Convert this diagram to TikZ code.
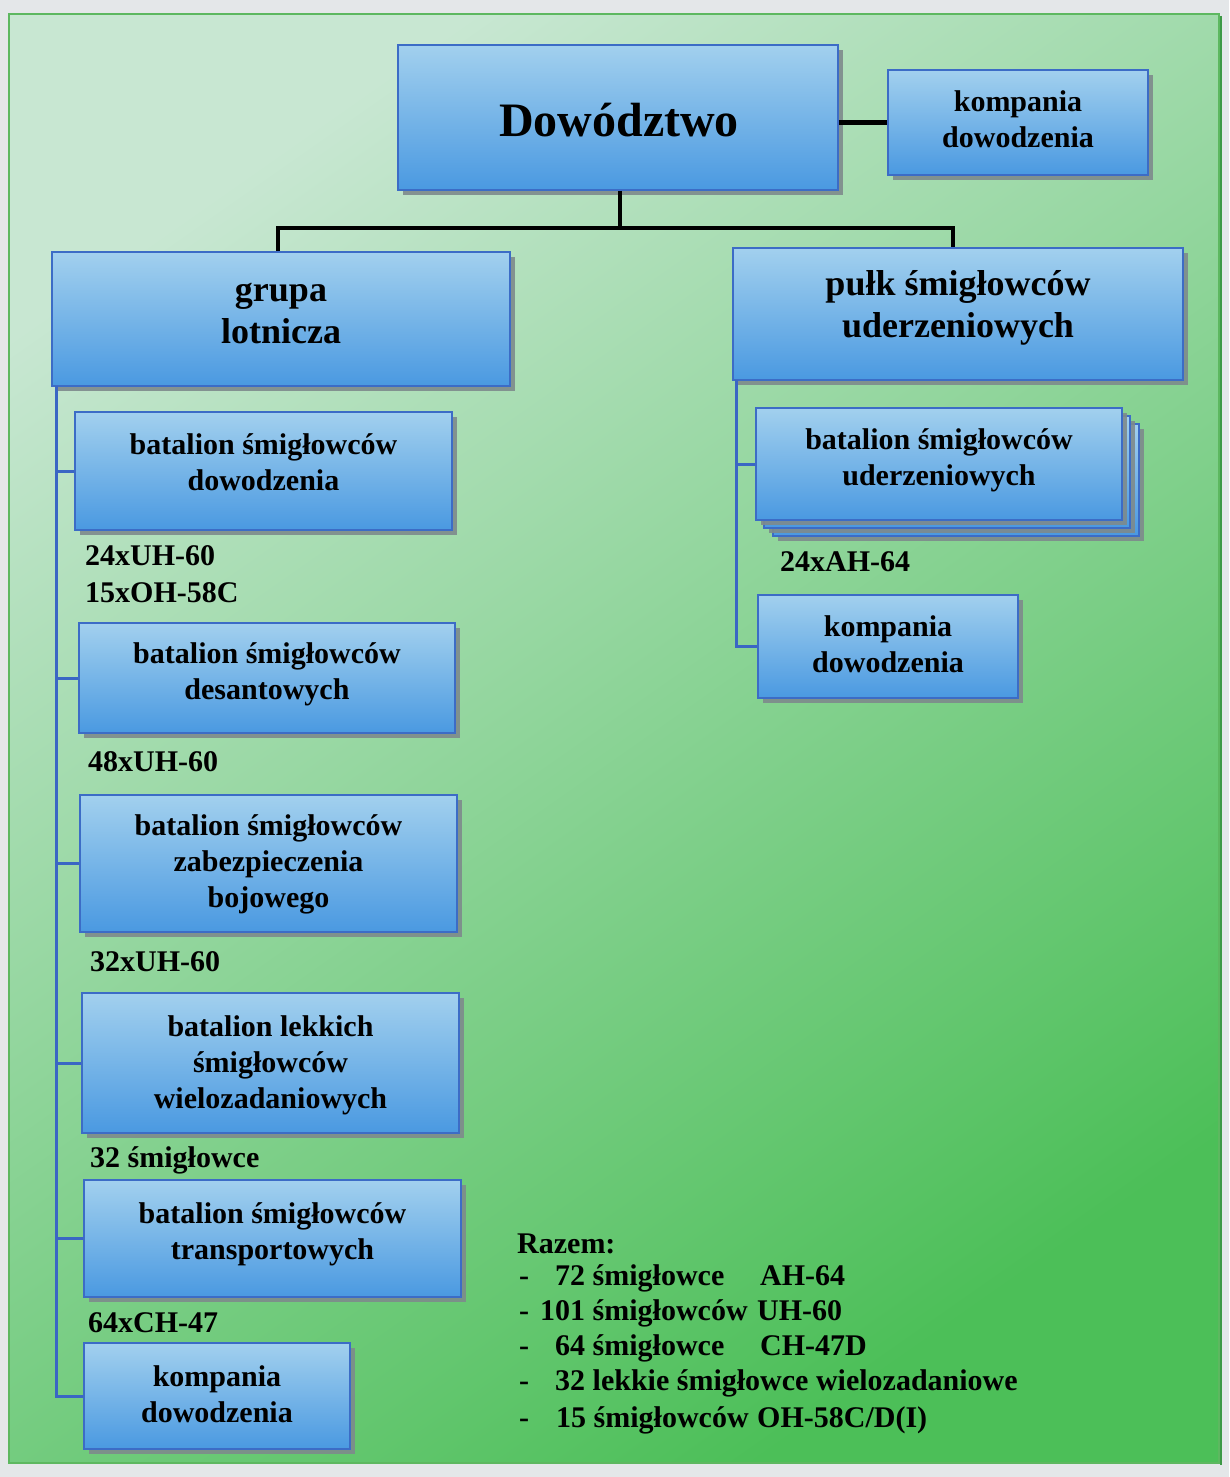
\documentclass[tikz,border=0pt]{standalone}
\usepackage{fontspec}
\setmainfont{Liberation Serif}
\usetikzlibrary{shadows,calc}

\definecolor{pagegray}{HTML}{E4E7E9}
\definecolor{panellight}{HTML}{C8E7D2}
\definecolor{panelmid}{HTML}{86CF92}
\definecolor{paneldark}{HTML}{4CBF58}
\definecolor{paneledge}{HTML}{5DB860}
\definecolor{boxtop}{HTML}{A2D0EE}
\definecolor{boxbot}{HTML}{4A99E1}
\definecolor{boxedge}{HTML}{3C6CC6}
\definecolor{boxshade}{HTML}{7E8A8C}
\definecolor{spinecol}{HTML}{3A66C4}

\tikzset{
  unit/.style={draw=boxedge, line width=1.8pt, top color=boxtop, bottom color=boxbot,
    inner sep=0pt,
    drop shadow={shadow xshift=5pt, shadow yshift=-5pt, fill=boxshade, opacity=0.9}},
  unittext/.style={font=\fontsize{30}{36}\selectfont\bfseries, align=center, inner sep=0pt},
  bigtext/.style={font=\fontsize{36}{42}\selectfont\bfseries, align=center, inner sep=0pt},
  titletext/.style={font=\fontsize{48}{56}\selectfont\bfseries, inner sep=0pt},
  tag/.style={font=\fontsize{30}{36}\selectfont\bfseries, inner sep=0pt, anchor=base west},
  listtext/.style={font=\fontsize{30}{36}\selectfont\bfseries, inner sep=0pt, anchor=base west},
  tree/.style={line width=4.5pt, black},
  spine/.style={line width=3pt, spinecol},
}

% #1 name, #2/#3 centre, #4 width, #5 height, #6 text offset, #7 style, #8 text
\newcommand\orgbox[8]{%
  \node[unit, minimum width=#4pt, minimum height=#5pt] (#1) at (#2,#3) {};
  \node[#7] (#1-t) at ($(#1.center)+(0,#6)$) {#8};
}

\begin{document}
\begin{tikzpicture}[x=1pt, y=-1pt]
  \useasboundingbox (0,0) rectangle (1229,1477);
  \fill[pagegray] (0,0) rectangle (1229,1477);

  % green panel
  \shade[top color=panellight, middle color=panelmid, bottom color=paneldark, shading angle=35]
    (9,14) rectangle (1219,1463);
  \draw[paneledge, line width=1.5pt] (9,14) rectangle (1219,1463);
  \draw[paneldark!80!black, line width=2pt] (1221,16) -- (1221,1465);

  % command level
  \node[unit, minimum width=440pt, minimum height=145pt] (dow) at (618,117.5) {};
  \node[titletext, anchor=base] (dow-t) at (619,136) {Dowództwo};
  \orgbox{kd1}{1018}{122.5}{260}{105}{-3}{unittext}{kompania\\dowodzenia}

  % second level
  \orgbox{grupa}{281}{319}{458}{134}{-6}{bigtext}{grupa\\lotnicza}
  \orgbox{pulk}{958}{314}{450}{132}{-6}{bigtext}{pułk śmigłowców\\uderzeniowych}

  % battalions of the aviation group
  \orgbox{b1}{263.5}{471}{377}{118}{-9}{unittext}{batalion śmigłowców\\dowodzenia}
  \orgbox{b2}{267}{678}{376}{110}{-4}{unittext}{batalion śmigłowców\\desantowych}
  \orgbox{b3}{268.5}{863.5}{377}{137}{1}{unittext}{batalion śmigłowców\\zabezpieczenia\\bojowego}
  \orgbox{b4}{270.5}{1063}{377}{140}{2}{unittext}{batalion lekkich\\śmigłowców\\wielozadaniowych}
  \orgbox{b5}{272.5}{1238.5}{377}{117}{-4}{unittext}{batalion śmigłowców\\transportowych}
  \orgbox{kd3}{217}{1396}{266}{106}{-2}{unittext}{kompania\\dowodzenia}

  % attack regiment: stacked battalions
  \node[unit, minimum width=366pt, minimum height=112pt] (ud3) at (956,480) {};
  \node[unit, minimum width=366pt, minimum height=112pt] (ud2) at (947,472) {};
  \orgbox{ud}{939}{464}{366}{112}{-4}{unittext}{batalion śmigłowców\\uderzeniowych}
  \orgbox{kd2}{888}{646.5}{260}{103}{-2}{unittext}{kompania\\dowodzenia}

  % aircraft counts
  \node[tag] (n1) at (85,565) {24xUH-60};
  \node[tag] (n2) at (85,602) {15xOH-58C};
  \node[tag] (n3) at (88,771) {48xUH-60};
  \node[tag] (n4) at (90,971) {32xUH-60};
  \node[tag] (n5) at (90,1167) {32 śmigłowce};
  \node[tag] (n6) at (88,1332) {64xCH-47};
  \node[tag] (n7) at (780,571) {24xAH-64};

  % black connectors
  \coordinate (hub) at (620,228);
  \draw[tree] (dow.east |- kd1.west) -- (kd1.west);
  \draw[tree] (dow.south -| hub) -- (hub);
  \draw[tree] (grupa.north -| 278,0) |- (hub) -| (pulk.north -| 953,0);

  % blue spines
  \coordinate (ls) at (56,386);
  \draw[spine] (ls) |- (kd3.west);
  \foreach \b in {b1,b2,b3,b4,b5}
    \draw[spine] (\b.west) -- (\b.west -| ls);
  \coordinate (rs) at (736,380);
  \draw[spine] (rs) |- (kd2.west);
  \draw[spine] (ud.west) -- (ud.west -| rs);

  % totals
  \node[listtext] (sum) at (517,1253) {Razem:};
  \node[listtext] (d1) at (519,1285) {-};
  \node[listtext] (c1) at (555,1285) {72 śmigłowce};
  \node[listtext] (m1) at (760,1285) {AH-64};
  \node[listtext] (d2) at (519,1320) {-};
  \node[listtext] (c2) at (540,1320) {101 śmigłowców};
  \node[listtext] (m2) at (757,1320) {UH-60};
  \node[listtext] (d3) at (519,1355) {-};
  \node[listtext] (c3) at (555,1355) {64 śmigłowce};
  \node[listtext] (m3) at (760,1355) {CH-47D};
  \node[listtext] (d4) at (519,1390) {-};
  \node[listtext] (c4) at (555,1390) {32 lekkie śmigłowce wielozadaniowe};
  \node[listtext] (d5) at (519,1427) {-};
  \node[listtext] (c5) at (556,1427) {15 śmigłowców};
  \node[listtext] (m5) at (757,1427) {OH-58C/D(I)};
\end{tikzpicture}
\end{document}
